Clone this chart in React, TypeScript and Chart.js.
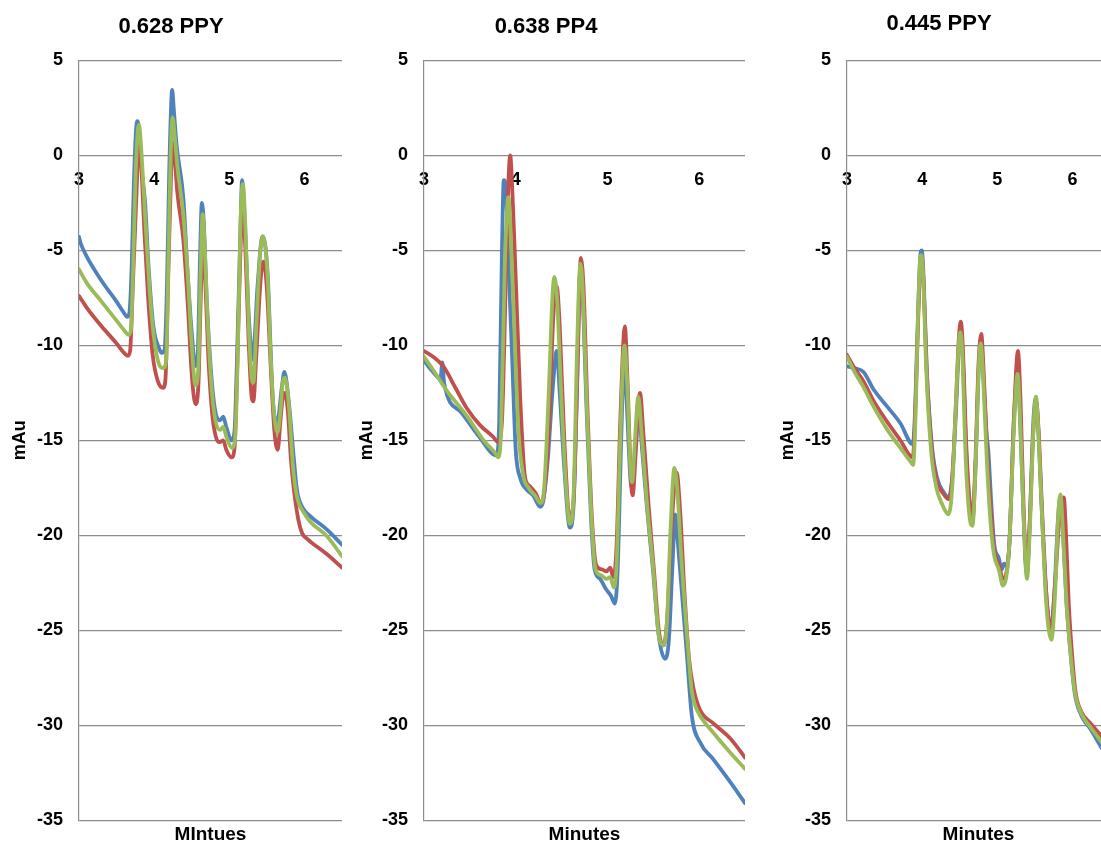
import React, { useEffect, useRef } from "react";
import { Chart, registerables } from "chart.js";

Chart.register(...registerables);

// ---------- DATA (minutes, mAu) ----------
const xTickValues = [3, 4, 5, 6];
const yMin = -35;
const yMax = 5;
const yStep = 5;
const panelTitles = ["0.628 PPY", "0.638 PP4", "0.445 PPY"];
const xAxisTitles = ["MIntues", "Minutes", "Minutes"];
const yAxisTitle = "mAu";

// Panel 1: 0.628 PPY
const ppy628Blue: [number, number][] = [
  [3.0, -4.3], [3.02, -4.6], [3.1, -5.3], [3.3, -6.6], [3.5, -7.7], [3.6, -8.3], [3.64, -8.5], [3.67, -8.3],
  [3.7, -6.0], [3.73, -1.5], [3.76, 1.4], [3.78, 1.8], [3.8, 1.2], [3.84, -1.0], [3.88, -2.5], [3.925, -5.8],
  [3.99, -9.0], [4.07, -10.2], [4.1, -10.4], [4.14, -10.2], [4.17, -7.0], [4.2, -1.0], [4.23, 3.0], [4.24, 3.45],
  [4.26, 2.5], [4.3, 0.5], [4.39, -2.3], [4.44, -5.8], [4.5, -9.3], [4.55, -11.1], [4.58, -10.5], [4.61, -5.5],
  [4.635, -2.5], [4.66, -3.5], [4.7, -7.6], [4.77, -12.0], [4.835, -13.8], [4.88, -13.95], [4.92, -13.75],
  [4.96, -14.3], [5.03, -15.0], [5.07, -14.5], [5.1, -11.1], [5.147, -4.1], [5.17, -1.3], [5.213, -4.1],
  [5.26, -8.5], [5.316, -10.75], [5.34, -9.5], [5.376, -6.9], [5.444, -4.26], [5.51, -6.2], [5.55, -10.2],
  [5.58, -12.9], [5.636, -14.1], [5.7, -12.2], [5.733, -11.4], [5.79, -12.9], [5.86, -16.0], [5.9, -17.6],
  [5.97, -18.5], [6.08, -19.0], [6.3, -19.7], [6.5, -20.5],
];
const ppy628Red: [number, number][] = [
  [3.0, -7.4], [3.1, -8.0], [3.3, -9.0], [3.5, -9.9], [3.6, -10.4], [3.65, -10.55], [3.68, -10.3],
  [3.72, -6.5], [3.76, -2.5], [3.79, 0.2], [3.81, 0.6], [3.83, -0.5], [3.87, -4.0], [3.92, -7.5],
  [3.98, -10.5], [4.05, -11.9], [4.12, -12.24], [4.15, -11.8], [4.19, -6.0], [4.225, -1.0], [4.245, 0.7],
  [4.27, 0.0], [4.31, -2.0], [4.39, -4.5], [4.45, -8.0], [4.5, -11.5], [4.55, -13.1], [4.59, -12.0],
  [4.62, -7.5], [4.65, -4.9], [4.68, -6.5], [4.72, -10.5], [4.77, -13.5], [4.82, -14.8], [4.87, -15.1],
  [4.92, -15.0], [4.96, -15.5], [5.03, -15.9], [5.07, -15.4], [5.1, -12.0], [5.145, -5.5], [5.18, -2.6],
  [5.215, -5.0], [5.26, -10.0], [5.3, -12.8], [5.32, -12.95], [5.36, -10.5], [5.42, -6.4], [5.457, -5.6],
  [5.5, -7.0], [5.55, -11.0], [5.6, -14.5], [5.645, -15.5], [5.68, -14.0], [5.71, -12.8], [5.738, -12.5],
  [5.78, -13.5], [5.82, -16.0], [5.86, -17.6], [5.92, -19.2], [5.97, -19.9], [6.04, -20.2], [6.3, -21.0],
  [6.5, -21.7],
];
const ppy628Green: [number, number][] = [
  [3.0, -6.0], [3.1, -6.7], [3.3, -7.7], [3.5, -8.7], [3.6, -9.2], [3.66, -9.45], [3.69, -9.2],
  [3.72, -6.0], [3.75, -1.5], [3.78, 1.2], [3.8, 1.6], [3.82, 0.8], [3.86, -1.8], [3.91, -5.2],
  [3.97, -8.6], [4.05, -10.8], [4.12, -11.2], [4.16, -10.8], [4.19, -5.5], [4.22, 0.0], [4.245, 2.0],
  [4.27, 1.2], [4.31, -0.6], [4.39, -3.2], [4.45, -6.5], [4.5, -10.0], [4.55, -12.1], [4.59, -11.0],
  [4.62, -6.0], [4.645, -3.1], [4.67, -4.5], [4.71, -8.5], [4.77, -12.5], [4.83, -14.2], [4.88, -14.45],
  [4.92, -14.3], [4.96, -14.8], [5.035, -15.4], [5.075, -15.0], [5.11, -11.0], [5.15, -3.5], [5.18, -1.5],
  [5.215, -3.8], [5.26, -9.0], [5.3, -11.8], [5.32, -11.97], [5.36, -9.0], [5.41, -5.2], [5.45, -4.26],
  [5.51, -6.4], [5.55, -10.5], [5.59, -13.3], [5.64, -14.6], [5.68, -13.5], [5.71, -12.0], [5.74, -11.7],
  [5.79, -13.0], [5.85, -16.5], [5.9, -17.95], [5.99, -18.8], [6.08, -19.3], [6.3, -20.05], [6.5, -21.1],
];

// Panel 2: 0.638 PP4
const pp4638Blue: [number, number][] = [
  [3.0, -10.8], [3.08, -11.3], [3.18, -11.75], [3.2, -10.9], [3.22, -12.0], [3.4, -13.5], [3.6, -14.8],
  [3.79, -15.8], [3.82, -14.0], [3.85, -5.0], [3.87, -1.3], [3.89, -1.5], [3.92, -5.5], [3.96, -10.5],
  [4.0, -15.5], [4.05, -17.0], [4.12, -17.6], [4.19, -17.9], [4.265, -18.5], [4.3, -18.2], [4.35, -16.0],
  [4.4, -12.5], [4.447, -10.3], [4.48, -12.5], [4.53, -16.5], [4.59, -19.6], [4.63, -18.5], [4.67, -12.0],
  [4.7, -6.3], [4.73, -7.5], [4.77, -13.0], [4.82, -19.0], [4.86, -21.8], [4.92, -22.3], [4.98, -22.8],
  [5.04, -23.2], [5.08, -23.6], [5.11, -22.0], [5.15, -15.0], [5.18, -10.8], [5.21, -13.0], [5.25, -17.0],
  [5.27, -17.5], [5.31, -15.0], [5.335, -13.0], [5.37, -15.0], [5.43, -18.5], [5.5, -22.0], [5.56, -25.3],
  [5.63, -26.5], [5.67, -25.5], [5.71, -21.5], [5.74, -18.9], [5.77, -20.5], [5.82, -23.5], [5.87, -26.5],
  [5.92, -29.5], [6.01, -30.9], [6.155, -31.8], [6.34, -33.0], [6.5, -34.1],
];
const pp4638Red: [number, number][] = [
  [3.0, -10.3], [3.1, -10.6], [3.21, -11.1], [3.35, -12.3], [3.465, -13.3], [3.61, -14.2], [3.75, -14.8],
  [3.81, -15.1], [3.85, -14.0], [3.89, -7.0], [3.92, -1.5], [3.94, 0.0], [3.96, -1.5], [3.995, -5.8],
  [4.05, -12.9], [4.1, -16.9], [4.15, -17.4], [4.22, -17.8], [4.27, -18.3], [4.31, -17.8], [4.36, -14.5],
  [4.41, -8.5], [4.447, -6.9], [4.48, -9.0], [4.53, -15.0], [4.59, -19.1], [4.63, -18.2], [4.68, -10.0],
  [4.71, -5.4], [4.74, -7.0], [4.78, -13.0], [4.83, -19.0], [4.88, -21.6], [4.94, -21.8], [4.99, -21.9],
  [5.03, -21.7], [5.065, -22.2], [5.1, -20.5], [5.14, -14.0], [5.19, -9.0], [5.22, -12.0], [5.255, -17.0],
  [5.275, -17.9], [5.31, -15.5], [5.355, -12.5], [5.39, -14.5], [5.45, -18.5], [5.51, -22.0], [5.56, -25.0],
  [5.61, -25.8], [5.65, -24.5], [5.7, -19.5], [5.755, -16.7], [5.79, -18.5], [5.84, -23.0], [5.89, -26.5],
  [5.94, -28.1], [6.01, -29.2], [6.155, -29.9], [6.34, -30.7], [6.5, -31.7],
];
const pp4638Green: [number, number][] = [
  [3.0, -10.6], [3.1, -11.3], [3.25, -12.4], [3.465, -13.7], [3.65, -15.0], [3.79, -15.75], [3.81, -15.9],
  [3.84, -14.5], [3.88, -6.0], [3.91, -2.5], [3.92, -2.2], [3.94, -3.5], [3.98, -8.5], [4.03, -14.5],
  [4.08, -16.8], [4.14, -17.5], [4.21, -17.9], [4.27, -18.3], [4.31, -17.5], [4.36, -12.5], [4.4, -7.5],
  [4.42, -6.4], [4.45, -7.5], [4.5, -13.0], [4.55, -17.5], [4.59, -19.4], [4.63, -18.0], [4.67, -10.0],
  [4.705, -5.7], [4.73, -7.0], [4.77, -12.5], [4.82, -18.5], [4.87, -21.8], [4.93, -22.1], [4.99, -22.3],
  [5.03, -22.2], [5.07, -22.75], [5.1, -21.5], [5.14, -15.0], [5.185, -10.0], [5.22, -12.5], [5.25, -16.5],
  [5.27, -17.2], [5.3, -15.0], [5.337, -12.7], [5.37, -14.5], [5.43, -18.3], [5.5, -21.8], [5.555, -25.1],
  [5.61, -25.8], [5.65, -24.5], [5.69, -19.5], [5.73, -16.45], [5.76, -17.5], [5.81, -21.5], [5.865, -25.1],
  [5.92, -28.2], [5.96, -29.0], [6.01, -29.5], [6.155, -30.4], [6.34, -31.45], [6.5, -32.3],
];

// Panel 3: 0.445 PPY
const ppy445Blue: [number, number][] = [
  [3.0, -11.1], [3.1, -11.2], [3.22, -11.4], [3.35, -12.3], [3.53, -13.2], [3.71, -14.1], [3.875, -15.2],
  [3.9, -14.0], [3.94, -9.0], [3.975, -5.3], [3.995, -5.0], [4.02, -6.5], [4.06, -11.1], [4.13, -15.3],
  [4.2, -17.0], [4.28, -17.7], [4.35, -18.0], [4.4, -17.0], [4.45, -13.5], [4.49, -10.0], [4.51, -9.3],
  [4.54, -10.5], [4.59, -16.0], [4.64, -18.8], [4.67, -19.2], [4.71, -16.5], [4.75, -11.5], [4.785, -10.0],
  [4.82, -12.0], [4.86, -14.8], [4.88, -15.5], [4.92, -18.3], [4.96, -20.5], [5.02, -21.2], [5.06, -21.8],
  [5.09, -21.5], [5.12, -21.6], [5.16, -20.5], [5.22, -14.0], [5.27, -11.5], [5.3, -13.5], [5.35, -19.0],
  [5.39, -22.0], [5.43, -19.5], [5.48, -14.0], [5.51, -12.8], [5.54, -14.0], [5.59, -18.5], [5.65, -23.0],
  [5.71, -25.0], [5.76, -23.0], [5.81, -19.0], [5.84, -18.0], [5.87, -19.5], [5.92, -23.5], [5.97, -26.0],
  [6.03, -28.3], [6.12, -29.5], [6.24, -30.2], [6.39, -31.2], [6.5, -31.9],
];
const ppy445Red: [number, number][] = [
  [3.0, -10.5], [3.1, -11.2], [3.22, -11.9], [3.35, -12.9], [3.53, -14.0], [3.71, -15.0], [3.875, -15.9],
  [3.9, -14.5], [3.94, -9.5], [3.975, -5.8], [3.995, -5.3], [4.02, -6.8], [4.06, -11.3], [4.13, -15.5],
  [4.2, -17.2], [4.28, -17.8], [4.35, -18.1], [4.4, -17.0], [4.45, -13.0], [4.49, -9.5], [4.515, -8.75],
  [4.54, -10.0], [4.59, -15.5], [4.64, -18.5], [4.67, -19.0], [4.71, -16.0], [4.75, -11.0], [4.787, -9.4],
  [4.82, -11.5], [4.87, -16.0], [4.92, -19.0], [4.96, -20.8], [5.02, -21.5], [5.075, -22.3], [5.12, -22.0],
  [5.16, -20.5], [5.22, -14.0], [5.275, -10.3], [5.31, -13.0], [5.35, -18.5], [5.395, -22.0], [5.43, -19.5],
  [5.48, -14.5], [5.52, -13.0], [5.55, -14.5], [5.6, -19.0], [5.66, -23.5], [5.72, -24.9], [5.77, -22.5],
  [5.83, -19.0], [5.885, -18.0], [5.91, -19.5], [5.95, -23.5], [5.99, -26.0], [6.04, -28.2], [6.12, -29.3],
  [6.24, -29.9], [6.39, -30.6], [6.5, -31.2],
];
const ppy445Green: [number, number][] = [
  [3.0, -10.6], [3.1, -11.4], [3.22, -12.2], [3.35, -13.2], [3.53, -14.4], [3.71, -15.4], [3.86, -16.2],
  [3.88, -16.3], [3.91, -14.0], [3.945, -8.5], [3.975, -5.4], [3.99, -5.25], [4.015, -6.5], [4.055, -11.3],
  [4.12, -15.6], [4.19, -17.5], [4.27, -18.4], [4.35, -18.9], [4.4, -17.5], [4.45, -13.0], [4.49, -9.8],
  [4.51, -9.3], [4.535, -10.5], [4.58, -16.0], [4.63, -19.0], [4.67, -19.5], [4.71, -16.5], [4.75, -11.5],
  [4.78, -9.9], [4.81, -11.5], [4.86, -16.0], [4.91, -19.3], [4.955, -21.0], [5.02, -21.8], [5.075, -22.65],
  [5.12, -22.2], [5.16, -20.5], [5.22, -14.5], [5.27, -11.5], [5.3, -13.5], [5.35, -19.0], [5.395, -22.3],
  [5.43, -20.0], [5.48, -14.5], [5.515, -12.7], [5.54, -14.0], [5.59, -18.5], [5.65, -23.5], [5.72, -25.5],
  [5.77, -23.0], [5.81, -19.0], [5.84, -17.85], [5.87, -19.5], [5.92, -23.5], [5.97, -26.0], [6.03, -28.2],
  [6.12, -29.4], [6.24, -30.1], [6.39, -30.9], [6.5, -31.5],
];

// ---------- STYLE / LAYOUT ----------
const seriesColors = ["#4F81BD", "#C0504D", "#9BBB59"];
const FONT = "'Liberation Sans', Arial, Helvetica, sans-serif";
const GRID = "#8c8c8c";
const CANVAS_H = 847;

type PanelSpec = {
  title: string;
  xTitle: string;
  series: [number, number][][];
  left: number;
  width: number;
  yAxisWidth: number;
  padRight: number;
  titleTop: number;
};

const panels: PanelSpec[] = [
  { title: panelTitles[0], xTitle: xAxisTitles[0], series: [ppy628Blue, ppy628Red, ppy628Green], left: 0, width: 360, yAxisWidth: 79, padRight: 18, titleTop: 14 },
  { title: panelTitles[1], xTitle: xAxisTitles[1], series: [pp4638Blue, pp4638Red, pp4638Green], left: 347, width: 414, yAxisWidth: 77, padRight: 16, titleTop: 14 },
  { title: panelTitles[2], xTitle: xAxisTitles[2], series: [ppy445Blue, ppy445Red, ppy445Green], left: 768, width: 358, yAxisWidth: 79, padRight: 16, titleTop: 11 },
];

function Panel({ spec }: { spec: PanelSpec }) {
  const ref = useRef<HTMLCanvasElement | null>(null);
  useEffect(() => {
    if (!ref.current) return;
    const tickFont = { family: FONT, size: 18, weight: "bold" as const };
    const chart = new Chart(ref.current, {
      type: "line",
      data: {
        datasets: spec.series.map((s, i) => ({
          label: ["A", "B", "C"][i],
          data: s.map(([x, y]) => ({ x, y })),
          borderColor: seriesColors[i],
          backgroundColor: seriesColors[i],
          borderWidth: 3.8,
          pointRadius: 0,
          fill: false,
          cubicInterpolationMode: "monotone" as const,
          borderJoinStyle: "round" as const,
          borderCapStyle: "round" as const,
          order: 3 - i,
        })),
      },
      options: {
        responsive: false,
        animation: false,
        devicePixelRatio: 1,
        layout: { padding: { left: 0, right: spec.padRight, top: 0, bottom: 0 } },
        plugins: {
          legend: { display: false },
          tooltip: { enabled: false },
          title: {
            display: true,
            text: spec.title,
            color: "#000",
            font: { family: FONT, size: 22, weight: "bold" },
            padding: { top: spec.titleTop, bottom: 34 - spec.titleTop },
          },
          subtitle: {
            display: true,
            position: "bottom",
            fullSize: false,
            text: spec.xTitle,
            color: "#000",
            font: { family: FONT, size: 19, weight: "bold" },
            padding: { top: 3, bottom: 0 },
          },
        },
        scales: {
          x: {
            type: "linear",
            min: 3,
            max: 6.5,
            position: { y: 0 },
            grid: { display: false },
            border: { display: false },
            ticks: { color: "#000", font: tickFont, padding: 6, maxRotation: 0, autoSkip: false },
            afterBuildTicks: (scale: any) => {
              scale.ticks = xTickValues.map((v) => ({ value: v }));
            },
          },
          y: {
            type: "linear",
            min: yMin,
            max: yMax,
            ticks: { stepSize: yStep, color: "#000", font: tickFont, padding: 16 },
            grid: { color: GRID, lineWidth: 1.2, drawTicks: false },
            border: { display: true, color: GRID, width: 1.2 },
            title: {
              display: true,
              text: yAxisTitle,
              color: "#000",
              font: tickFont,
              padding: { top: 9, bottom: 0 },
            },
            afterFit: (scale: any) => {
              scale.width = spec.yAxisWidth;
            },
          },
        },
      } as any,
    });
    return () => chart.destroy();
  }, [spec]);
  return (
    <canvas
      ref={ref}
      width={spec.width}
      height={CANVAS_H}
      style={{ position: "absolute", left: spec.left, top: 0, width: spec.width, height: CANVAS_H }}
    />
  );
}

export default function App() {
  return (
    <div
      style={{
        position: "fixed",
        left: 0,
        top: 0,
        width: 1101,
        height: 844,
        overflow: "hidden",
        background: "#fff",
      }}
    >
      {panels.map((p, i) => (
        <Panel key={i} spec={p} />
      ))}
    </div>
  );
}
